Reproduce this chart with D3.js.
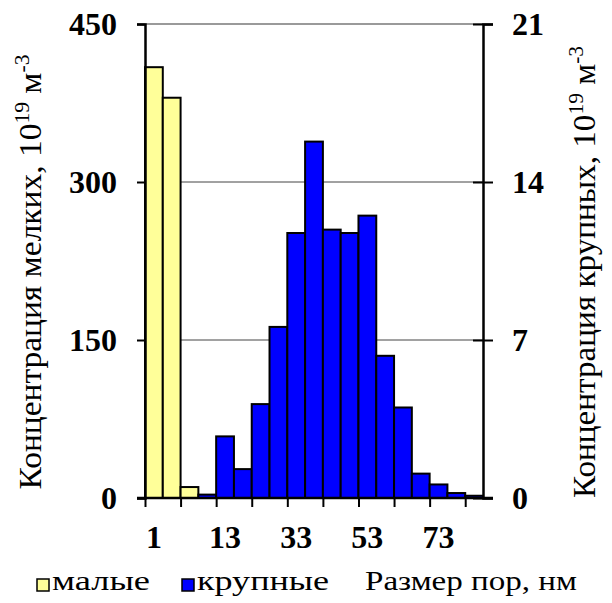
<!DOCTYPE html>
<html>
<head>
<meta charset="utf-8">
<script src="https://cdn.jsdelivr.net/npm/d3@7"></script>
<style>
  html, body { margin: 0; padding: 0; background: #fff; }
  svg { display: block; }
</style>
</head>
<body>
<svg id="chart" width="612" height="603"></svg>
<script>
// Pore size bins, nm
const sizes = [1, 4, 7, 10, 13, 18, 23, 28, 33, 38, 43, 48, 53, 58, 63, 68, 73, 78, 83];
// Small pores, 10^19 m^-3 (left axis)
const smallPores = [409, 380, 10.4, 0, 0, 0, 0, 0, 0, 0, 0, 0, 0, 0, 0, 0, 0, 0, 0];
// Large pores, 10^19 m^-3 (right axis)
const largePores = [0, 0, 0, 0.15, 2.73, 1.28, 4.16, 7.58, 11.74, 15.79, 11.89, 11.74, 12.51, 6.3, 4.01, 1.08, 0.6, 0.22, 0.1];
const leftTicks = [0, 150, 300, 450];
const rightTicks = [0, 7, 14, 21];
const xLabels = [1, 13, 33, 53, 73];

const FONT = "'Times New Roman', 'Liberation Serif', Tinos, 'DejaVu Serif', serif";

const svg = d3.select("#chart");
const L = 145, R = 483, T = 24, B = 498;

const x = d3.scaleBand().domain(sizes).range([L, R]).paddingInner(0).paddingOuter(0);
const xIdx = d3.scaleLinear().domain([0, sizes.length]).range([L, R]);
const yL = d3.scaleLinear().domain([0, 450]).range([B, T]);
const yR = d3.scaleLinear().domain([0, 21]).range([B, T]);

// gridlines
svg.append("g").selectAll("line").data([150, 300]).join("line")
  .attr("x1", L).attr("x2", R)
  .attr("y1", d => yL(d)).attr("y2", d => yL(d))
  .attr("stroke", "#444").attr("stroke-width", 1);
svg.append("line").attr("x1", L).attr("x2", R)
  .attr("y1", yL(450)).attr("y2", yL(450))
  .attr("stroke", "#9a9a9a").attr("stroke-width", 2);

// bars: small pores
svg.append("g").selectAll("rect")
  .data(sizes.map((s, i) => ({ s, v: smallPores[i] })).filter(d => d.v > 0))
  .join("rect")
  .attr("x", d => x(d.s)).attr("width", x.bandwidth())
  .attr("y", d => yL(d.v)).attr("height", d => B - yL(d.v))
  .attr("fill", "#FFFF99").attr("stroke", "#000").attr("stroke-width", 2);

// bars: large pores
svg.append("g").selectAll("rect")
  .data(sizes.map((s, i) => ({ s, v: largePores[i] })).filter(d => d.v > 0))
  .join("rect")
  .attr("x", d => x(d.s)).attr("width", x.bandwidth())
  .attr("y", d => yR(d.v)).attr("height", d => B - yR(d.v))
  .attr("fill", "#0000FF").attr("stroke", "#000").attr("stroke-width", 2);

function styleTicks(g) {
  g.attr("font-family", FONT);
  g.selectAll(".tick text").attr("font-size", 32).attr("font-weight", "bold")
    .style("font-family", FONT).attr("fill", "#000");
}

// left axis
const gL = svg.append("g").attr("transform", `translate(${L},0)`)
  .call(d3.axisLeft(yL).tickValues(leftTicks).tickSize(8).tickPadding(20).tickFormat(d3.format("d")));
gL.select(".domain").attr("stroke", "#000").attr("stroke-width", 2.5);
gL.selectAll(".tick line").attr("stroke", "#000").attr("stroke-width", 2);
styleTicks(gL);
gL.selectAll(".tick text").attr("dy", "0.34em");

// right axis
const gR = svg.append("g").attr("transform", `translate(${R},0)`)
  .call(d3.axisRight(yR).tickValues(rightTicks).tickSize(10).tickPadding(19).tickFormat(d3.format("d")));
gR.select(".domain").attr("stroke", "#000").attr("stroke-width", 2.5);
gR.selectAll(".tick line").attr("x1", -10).attr("stroke", "#000").attr("stroke-width", 2);
styleTicks(gR);
gR.selectAll(".tick text").attr("dy", "0.34em");

// bottom axis: tick marks every two bins
const gB = svg.append("g").attr("transform", `translate(0,${B})`)
  .call(d3.axisBottom(xIdx).tickValues(d3.range(0, sizes.length, 2)).tickSize(9).tickFormat(""));
gB.select(".domain").remove();
gB.selectAll(".tick line").attr("stroke", "#000").attr("stroke-width", 2);
svg.append("line").attr("x1", L - 8).attr("x2", R + 10).attr("y1", B).attr("y2", B)
  .attr("stroke", "#000").attr("stroke-width", 2.5);

// bottom labels centred on bins
const gBL = svg.append("g").attr("transform", `translate(0,${B})`)
  .call(d3.axisBottom(x).tickValues(xLabels).tickSize(0).tickPadding(27));
gBL.select(".domain").remove();
styleTicks(gBL);

// axis titles, stretched along their run to the given length
function title(xc, yc, label, len) {
  const t = svg.append("text")
    .attr("text-anchor", "middle").attr("font-size", 31).attr("fill", "#000")
    .style("font-family", FONT);
  t.append("tspan").text(label + ", 10");
  t.append("tspan").attr("font-size", 20).attr("dy", -12).text("19");
  t.append("tspan").attr("dy", 12).text(" м");
  t.append("tspan").attr("font-size", 20).attr("dy", -12).text("-3");
  const w = t.node().getBBox().width;
  t.attr("transform", `translate(${xc},${yc}) rotate(-90) scale(${len / w},1)`);
}
title(41, 272, "Концентрация мелких", 435);
title(595, 272, "Концентрация крупных", 452);

// legend
const legend = [
  { label: "малые", color: "#FFFF99", x: 37, len: 98 },
  { label: "крупные", color: "#0000FF", x: 182, len: 132 }
];
const lg = svg.append("g").style("font-family", FONT);
legend.forEach(d => {
  lg.append("rect").attr("x", d.x).attr("y", 579).attr("width", 12).attr("height", 12)
    .attr("fill", d.color).attr("stroke", "#000").attr("stroke-width", 1.5);
  lg.append("text").attr("x", d.x + 15).attr("y", 590).attr("font-size", 28)
    .attr("textLength", d.len).attr("lengthAdjust", "spacingAndGlyphs")
    .attr("fill", "#000").text(d.label);
});
lg.append("text").attr("x", 365).attr("y", 590).attr("font-size", 28)
  .attr("textLength", 212).attr("lengthAdjust", "spacingAndGlyphs")
  .attr("fill", "#000").text("Размер пор, нм");
</script>
</body>
</html>
